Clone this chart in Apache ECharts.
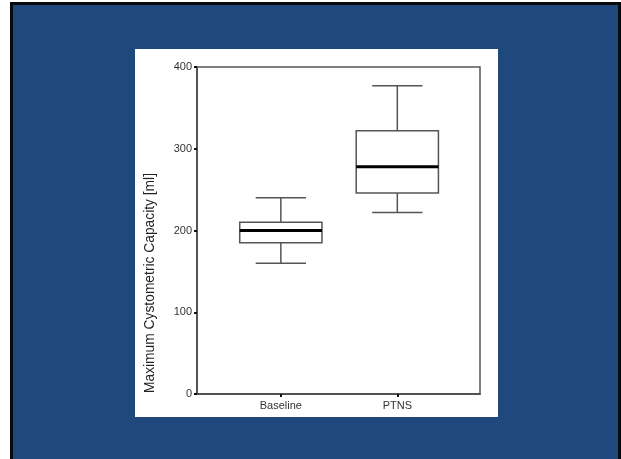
<!DOCTYPE html>
<html>
<head>
<meta charset="utf-8">
<script src="https://cdn.jsdelivr.net/npm/echarts@6/dist/echarts.min.js"></script>
<style>
  html, body { margin: 0; padding: 0; background: #fff; }
  #chart { width: 621px; height: 459px; }
</style>
</head>
<body>
<div id="chart"></div>
<script>
// box plot values (ml)
var categories = ['Baseline', 'PTNS'];
var lowWhisker = [160, 222];
var q1 = [185, 246];
var median = [200, 278];
var q3 = [210, 322];
var highWhisker = [240, 377];
var yTicks = [0, 100, 200, 300, 400];

var boxData = categories.map(function (c, i) {
    return [i + 1, lowWhisker[i], q1[i], median[i], q3[i], highWhisker[i]];
});

var boxColor = '#555';

function renderBox(params, api) {
    var x = api.value(0);
    var pLow = api.coord([x, api.value(1)]);
    var pQ1 = api.coord([x, api.value(2)]);
    var pMed = api.coord([x, api.value(3)]);
    var pQ3 = api.coord([x, api.value(4)]);
    var pHigh = api.coord([x, api.value(5)]);
    var halfBox = api.size([0.353, 0])[0];
    var halfCap = api.size([0.216, 0])[0];
    var cx = pMed[0];
    var line = { stroke: boxColor, lineWidth: 1.5 };
    return {
        type: 'group',
        children: [
            { type: 'line', shape: { x1: cx, y1: pHigh[1], x2: cx, y2: pQ3[1] }, style: line },
            { type: 'line', shape: { x1: cx, y1: pQ1[1], x2: cx, y2: pLow[1] }, style: line },
            { type: 'line', shape: { x1: cx - halfCap, y1: pHigh[1], x2: cx + halfCap, y2: pHigh[1] }, style: line },
            { type: 'line', shape: { x1: cx - halfCap, y1: pLow[1], x2: cx + halfCap, y2: pLow[1] }, style: line },
            {
                type: 'rect',
                shape: { x: cx - halfBox, y: pQ3[1], width: halfBox * 2, height: pQ1[1] - pQ3[1] },
                style: { fill: '#fff', stroke: boxColor, lineWidth: 1.5 }
            },
            {
                type: 'line',
                shape: { x1: cx - halfBox, y1: pMed[1], x2: cx + halfBox, y2: pMed[1] },
                style: { stroke: '#000', lineWidth: 3 }
            }
        ]
    };
}

var chart = echarts.init(document.getElementById('chart'));
chart.setOption({
    backgroundColor: '#fff',
    animation: false,
    graphic: [
        { type: 'rect', z: -10, shape: { x: 10, y: 2, width: 611, height: 457 }, style: { fill: '#0a0a0a' } },
        { type: 'rect', z: -9, shape: { x: 13, y: 5, width: 605, height: 454 }, style: { fill: '#1F497D' } },
        { type: 'rect', z: -8, shape: { x: 135, y: 49, width: 363, height: 368 }, style: { fill: '#fff' } },
        {
            type: 'text', z: 10,
            x: 150, y: 283, rotation: Math.PI / 2,
            style: {
                text: 'Maximum Cystometric Capacity [ml]',
                fill: '#222',
                font: '13.8px "Liberation Sans", Arial, sans-serif',
                align: 'center', verticalAlign: 'middle'
            }
        }
    ],
    grid: {
        left: 197, right: 141, top: 67, bottom: 65,
        show: true, borderColor: boxColor, borderWidth: 1.5, backgroundColor: 'transparent'
    },
    xAxis: {
        type: 'value',
        min: 0.28, max: 2.71,
        splitLine: { show: false },
        axisLine: { show: true, lineStyle: { color: '#444', width: 1.5 } },
        axisTick: { show: true, customValues: [1, 2], length: 3, lineStyle: { color: '#111', width: 2 } },
        axisLabel: {
            customValues: [1, 2],
            margin: 6,
            color: '#333',
            fontSize: 11,
            fontFamily: '"Liberation Sans", Arial, sans-serif',
            formatter: function (v) { return categories[Math.round(v) - 1] || ''; }
        }
    },
    yAxis: {
        type: 'value',
        min: yTicks[0], max: yTicks[yTicks.length - 1], interval: 100,
        splitLine: { show: false },
        axisLine: { show: true, lineStyle: { color: '#444', width: 1.5 } },
        axisTick: { show: true, length: 3, lineStyle: { color: '#111', width: 2 } },
        axisLabel: {
            margin: 5,
            color: '#333',
            fontSize: 11,
            fontFamily: '"Liberation Sans", Arial, sans-serif'
        }
    },
    series: [{
        type: 'custom',
        renderItem: renderBox,
        encode: { x: 0, y: [1, 2, 3, 4, 5] },
        data: boxData
    }]
});
</script>
</body>
</html>
